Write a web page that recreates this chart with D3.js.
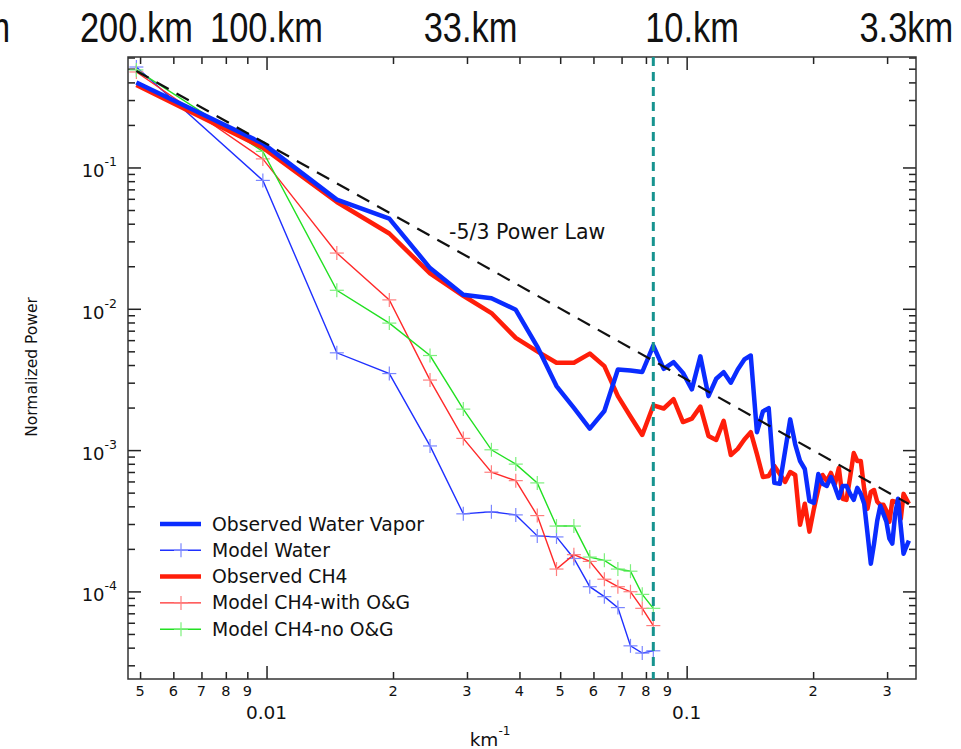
<!DOCTYPE html>
<html lang="en">
<head>
<meta charset="UTF-8">
<title>Normalized power spectra</title>
<script src="https://d3js.org/d3.v7.min.js"></script>
<style>
  body { margin: 0; background: #fff; }
  svg text { font-family: "DejaVu Sans", Verdana, sans-serif; fill: #111; }
  svg text.top-km { font-family: "Liberation Sans", Arial, sans-serif; font-size: 42px; }
  .axis path { display: none; }
  .axis line { stroke: #222; stroke-width: 1.5px; }
</style>
</head>
<body>
<svg width="961" height="749"></svg>
<script>
// wavenumber grid (km^-1), sample spacing of the spectra
const kObs = [0.0049, 0.0098, 0.0147, 0.0196, 0.0245, 0.0294, 0.0343, 0.0392, 0.0441, 0.049,
  0.0539, 0.0588, 0.0637, 0.0686, 0.0735, 0.0784, 0.0833, 0.0882, 0.0931, 0.098,
  0.1029, 0.1078, 0.1127, 0.1176, 0.1225, 0.1274, 0.1323, 0.1372, 0.1421, 0.147,
  0.1519, 0.1568, 0.1617, 0.1666, 0.1715, 0.1764, 0.1813, 0.1862, 0.1911, 0.196,
  0.2009, 0.2058, 0.2107, 0.2156, 0.2205, 0.2254, 0.2303, 0.2352, 0.2401, 0.245,
  0.2499, 0.2548, 0.2597, 0.2646, 0.2695, 0.2744, 0.2793, 0.2842, 0.2891, 0.294,
  0.2989, 0.3038, 0.3087, 0.3136, 0.3185, 0.3234, 0.3283, 0.3332, 0.3381];
const kModel = [0.0049, 0.0098, 0.0147, 0.0196, 0.0245, 0.0294, 0.0343, 0.0392, 0.0441,
  0.049, 0.0539, 0.0588, 0.0637, 0.0686, 0.0735, 0.0784, 0.0833];

const obsWater = [0.399, 0.148, 0.0592, 0.0435, 0.0194, 0.01256, 0.01189, 0.00984, 0.0054, 0.00284,
  0.00199, 0.00142, 0.00189, 0.00372, 0.00366, 0.00357, 0.00548, 0.00376, 0.00419, 0.00352,
  0.00269, 0.00461, 0.00241, 0.0032, 0.00356, 0.003, 0.00372, 0.00438, 0.00467, 0.00134,
  0.00188, 0.00198, 0.000586, 0.000577, 0.000984, 0.00165, 0.0011, 0.000837, 0.000735, 0.000437,
  0.000423, 0.000677, 0.000577, 0.000558, 0.000645, 0.000549, 0.000459, 0.000558, 0.000558, 0.00049,
  0.000444, 0.00054, 0.00049, 0.000417, 0.000256, 0.000157, 0.000218, 0.000316, 0.000404, 0.000354,
  0.000311, 0.000236, 0.000218, 0.000354, 0.000452, 0.000287, 0.000185, 0.000207, 0.000229];
const obsCH4 = [0.384, 0.138, 0.057, 0.0341, 0.0178, 0.01236, 0.00933, 0.00622, 0.005, 0.00415,
  0.00415, 0.00482, 0.00393, 0.00241, 0.00173, 0.00128, 0.00207, 0.00197, 0.00229, 0.00158,
  0.00167, 0.00203, 0.00126, 0.00118, 0.00161, 0.000923, 0.00102, 0.00119, 0.00134, 0.000938,
  0.000645, 0.000656, 0.000771, 0.000677, 0.000595, 0.0007, 0.000667, 0.000296, 0.000417, 0.000265,
  0.000385, 0.000531, 0.000667, 0.000605, 0.000689, 0.000577, 0.000746, 0.000452, 0.000444, 0.000645,
  0.000953, 0.000837, 0.000837, 0.000531, 0.000385, 0.000506, 0.000522, 0.000431, 0.00041, 0.00041,
  0.000372, 0.000311, 0.000437, 0.000431, 0.000417, 0.000327, 0.00049, 0.000452, 0.000417];
const modelWater = [0.514, 0.081, 0.00488, 0.00348, 0.00107, 0.000354, 0.000366, 0.000348, 0.000247,
  0.000243, 0.000171, 0.000108, 0.0000918, 0.0000768, 0.0000412, 0.0000366, 0.000038];
const modelCH4OG = [0.474, 0.115, 0.0248, 0.01156, 0.00313, 0.00121, 0.000697, 0.000608, 0.000344,
  0.000144, 0.000182, 0.000163, 0.000122, 0.000108, 0.0000995, 0.0000759, 0.0000573];
const modelCH4noOG = [0.49, 0.13, 0.01352, 0.00792, 0.00467, 0.00195, 0.001005, 0.000796, 0.000586,
  0.00029, 0.00029, 0.000175, 0.000166, 0.000144, 0.000139, 0.0000953, 0.0000759];

// -5/3 reference line end points
const powerLawK = [0.0049, 0.3381];
const powerLawP = [0.482, 0.000415];
const cutoffK = 0.0833;

const xMinorTicks = [0.005, 0.006, 0.007, 0.008, 0.009, 0.02, 0.03, 0.04, 0.05, 0.06, 0.07, 0.08, 0.09, 0.2, 0.3];
const xMajorTicks = [0.01, 0.1];
const xMajorLabels = ["0.01", "0.1"];
const yMajorTicks = [1e-4, 1e-3, 1e-2, 1e-1];
const yMajorExp = ["-4", "-3", "-2", "-1"];
const topLabels = ["500.km", "200.km", "100.km", "33.km", "10.km", "3.3km"];
const topLabelK = [0.0018, 0.0049, 0.01, 0.0306, 0.103, 0.3333];

const legendNames = ["Observed Water Vapor", "Model Water", "Observed CH4", "Model CH4-with O&G", "Model CH4-no O&G"];

const pL = 128, pR = 916, pT = 57, pB = 679;
const svg = d3.select("svg");

const x = d3.scaleLog().domain([0.00468, 0.3515]).range([pL, pR]);
const y = d3.scaleLog().domain([2.4e-5, 0.605]).range([pB, pT]);

const yMinorTicks = [];
[1e-5, 1e-4, 1e-3, 1e-2, 1e-1].forEach(d => {
  for (let m = 2; m <= 9; m++) {
    const v = d * m;
    if (v > y.domain()[0] && v < y.domain()[1]) yMinorTicks.push(v);
  }
});

// ticks on all four sides, pointing inward
svg.append("g").attr("class", "axis").attr("transform", `translate(0,${pB})`)
  .call(d3.axisBottom(x).tickValues(xMinorTicks).tickSize(-7).tickFormat(""));
svg.append("g").attr("class", "axis").attr("transform", `translate(0,${pB})`)
  .call(d3.axisBottom(x).tickValues(xMajorTicks).tickSize(-13).tickFormat(""));
svg.append("g").attr("class", "axis").attr("transform", `translate(0,${pT})`)
  .call(d3.axisTop(x).tickValues(xMinorTicks).tickSize(-7).tickFormat(""));
svg.append("g").attr("class", "axis").attr("transform", `translate(0,${pT})`)
  .call(d3.axisTop(x).tickValues(xMajorTicks).tickSize(-13).tickFormat(""));
svg.append("g").attr("class", "axis").attr("transform", `translate(${pL},0)`)
  .call(d3.axisLeft(y).tickValues(yMinorTicks).tickSize(-7).tickFormat(""));
svg.append("g").attr("class", "axis").attr("transform", `translate(${pL},0)`)
  .call(d3.axisLeft(y).tickValues(yMajorTicks).tickSize(-13).tickFormat(""));
svg.append("g").attr("class", "axis").attr("transform", `translate(${pR},0)`)
  .call(d3.axisRight(y).tickValues(yMinorTicks).tickSize(-7).tickFormat(""));
svg.append("g").attr("class", "axis").attr("transform", `translate(${pR},0)`)
  .call(d3.axisRight(y).tickValues(yMajorTicks).tickSize(-13).tickFormat(""));

svg.append("rect").attr("x", pL).attr("y", pT)
  .attr("width", pR - pL).attr("height", pB - pT)
  .attr("fill", "none").attr("stroke", "#333").attr("stroke-width", 1.5);

// x tick labels
svg.append("g").selectAll("text").data(xMinorTicks).join("text")
  .attr("x", d => x(d)).attr("y", pB + 17)
  .attr("text-anchor", "middle").style("font-size", "14.5px")
  .text(d => String(Math.round(d / Math.pow(10, Math.floor(Math.log10(d) + 1e-9)))));
svg.append("g").selectAll("text").data(xMajorTicks).join("text")
  .attr("x", d => x(d)).attr("y", pB + 40)
  .attr("text-anchor", "middle").style("font-size", "18.5px")
  .text((d, i) => xMajorLabels[i]);

// y tick labels 10^n
const yl = svg.append("g").selectAll("text").data(yMajorTicks).join("text")
  .attr("x", pL - 11).attr("y", d => y(d) + 10)
  .attr("text-anchor", "end").style("font-size", "18px");
yl.append("tspan").text("10");
yl.append("tspan").attr("dy", -11).style("font-size", "12.5px").text((d, i) => yMajorExp[i]);

// axis titles
svg.append("text").attr("transform", "translate(37,367) rotate(-90)")
  .attr("text-anchor", "middle").style("font-size", "15.5px").text("Normalized Power");
const xt = svg.append("text").attr("x", 490).attr("y", 746).attr("text-anchor", "middle").style("font-size", "18.5px");
xt.append("tspan").text("km");
xt.append("tspan").attr("dy", -11).style("font-size", "12px").text("-1");

// wavelength labels along the top (narrow face)
svg.append("g").selectAll("text").data(topLabels).join("text")
  .attr("class", "top-km")
  .attr("transform", (d, i) => `translate(${x(topLabelK[i])},42) scale(0.82,1)`)
  .attr("text-anchor", "middle").text(d => d);

const plot = svg.append("g");
const line = d3.line().x(d => x(d[0])).y(d => y(d[1]));

function drawModel(vals, color, markColor) {
  const pts = kModel.map((k, i) => [k, vals[i]]);
  plot.append("path").datum(pts).attr("d", line)
    .attr("fill", "none").attr("stroke", color).attr("stroke-width", 1.4);
  const g = plot.append("g").attr("stroke", markColor).attr("stroke-width", 1.2);
  g.selectAll("line.h").data(pts).join("line").attr("class", "h")
    .attr("x1", d => x(d[0]) - 7).attr("x2", d => x(d[0]) + 7)
    .attr("y1", d => y(d[1])).attr("y2", d => y(d[1]));
  g.selectAll("line.v").data(pts).join("line").attr("class", "v")
    .attr("x1", d => x(d[0])).attr("x2", d => x(d[0]))
    .attr("y1", d => y(d[1]) - 7).attr("y2", d => y(d[1]) + 7);
}
function drawObs(vals, color) {
  const pts = kObs.map((k, i) => [k, vals[i]]);
  plot.append("path").datum(pts).attr("d", line)
    .attr("fill", "none").attr("stroke", color).attr("stroke-width", 4.5)
    .attr("stroke-linejoin", "round");
}

drawModel(modelWater, "#1f30ff", "#7a86ff");
drawModel(modelCH4OG, "#ff2a2a", "#ff7f7f");
drawModel(modelCH4noOG, "#22e022", "#7df07d");
drawObs(obsCH4, "#ff1e0a");
drawObs(obsWater, "#0a2cff");

// -5/3 power law
plot.append("path").datum(powerLawK.map((k, i) => [k, powerLawP[i]])).attr("d", line)
  .attr("fill", "none").attr("stroke", "#111").attr("stroke-width", 2.2)
  .attr("stroke-dasharray", "14,9");
plot.append("text").attr("x", x(0.0272)).attr("y", y(0.0313))
  .style("font-size", "20.5px").text("-5/3 Power Law");

// model resolution cut-off
plot.append("line").attr("x1", x(cutoffK)).attr("x2", x(cutoffK))
  .attr("y1", pT).attr("y2", pB)
  .attr("stroke", "#17938f").attr("stroke-width", 3).attr("stroke-dasharray", "9,6");

// legend
const legStyle = [
  { c: "#0a2cff", w: 4.5, mark: false },
  { c: "#1f30ff", w: 1.4, mark: "#7a86ff" },
  { c: "#ff1e0a", w: 4.5, mark: false },
  { c: "#ff2a2a", w: 1.4, mark: "#ff7f7f" },
  { c: "#22e022", w: 1.4, mark: "#7df07d" }
];
const leg = svg.append("g").selectAll("g").data(legendNames).join("g")
  .attr("transform", (d, i) => `translate(160,${524 + i * 26.3})`);
leg.append("line").attr("x1", 0).attr("x2", 41)
  .attr("stroke", (d, i) => legStyle[i].c).attr("stroke-width", (d, i) => legStyle[i].w);
leg.filter((d, i) => legStyle[i].mark).append("path")
  .attr("d", "M14,0H28M21,-7V7")
  .attr("stroke", d => legStyle[legendNames.indexOf(d)].mark).attr("stroke-width", 1.2);
leg.append("text").attr("x", 52).attr("y", 6.5).style("font-size", "18.8px").text(d => d);
</script>
</body>
</html>
